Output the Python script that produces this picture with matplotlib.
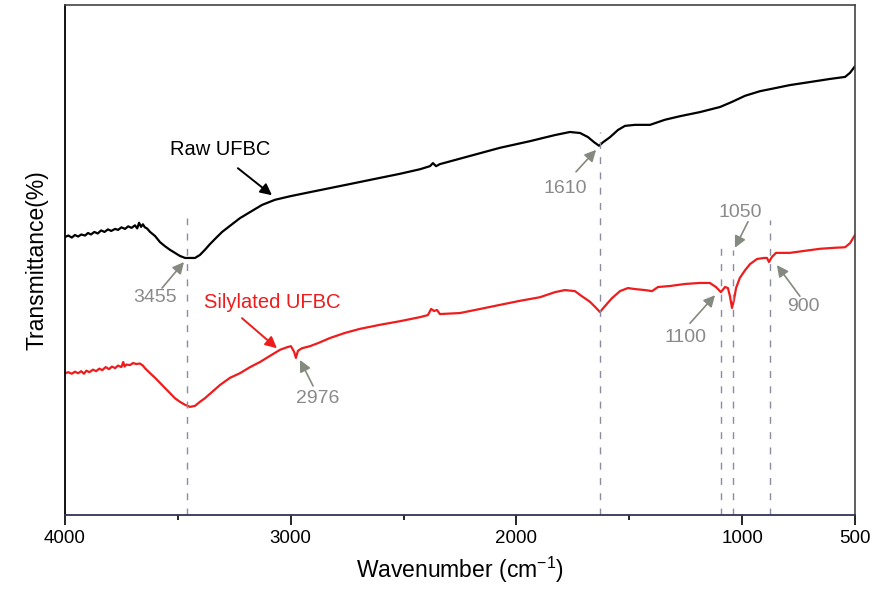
import matplotlib
matplotlib.use("Agg")
import matplotlib.pyplot as plt

plt.rcParams['font.family'] = ['Liberation Sans', 'DejaVu Sans']
plt.rcParams['mathtext.fontset'] = 'custom'
plt.rcParams['mathtext.rm'] = 'Liberation Sans'
plt.rcParams['mathtext.it'] = 'Liberation Sans:italic'

# FTIR spectra, values (transmittance in arbitrary units)
raw_wn = [4000, 3985, 3970, 3956, 3942, 3928, 3911, 3898, 3885, 3870, 3855, 3840, 3825,
          3810, 3795, 3778, 3765, 3750, 3734, 3720, 3705, 3690, 3680, 3672, 3663, 3655,
          3646, 3637, 3623, 3601, 3579, 3557, 3535, 3513, 3491,
          3468, 3446, 3424, 3402, 3380, 3358, 3336, 3304, 3269, 3225, 3180, 3127, 3070,
          3003, 2915, 2826, 2737, 2627, 2516, 2427, 2383, 2370, 2356, 2339, 2206, 2073,
          1940, 1829, 1763, 1718, 1683, 1656, 1634, 1616, 1585, 1550, 1519, 1475, 1408,
          1342, 1275, 1187, 1098, 1045, 987, 921, 854, 788, 699, 611, 544, 522, 500]
raw_t = [54.5, 54.8, 54.4, 54.9, 54.6, 55.0, 54.8, 55.3, 55.0, 55.5, 55.2, 55.8, 55.5,
         56.0, 55.7, 56.1, 55.9, 56.4, 56.1, 56.6, 56.3, 56.8, 56.2, 57.3, 56.5, 57.0,
         56.4, 56.2, 55.5, 54.7, 53.5, 52.7, 52.0, 51.4, 50.8,
         50.4, 50.4, 50.4, 51.0, 52.0, 53.1, 54.1, 55.5, 56.7, 58.2, 59.4, 60.8, 61.8,
         62.5, 63.3, 64.1, 64.9, 65.9, 66.9, 67.8, 68.4, 69.0, 68.4, 68.8, 70.4, 72.0,
         73.3, 74.5, 75.1, 74.9, 74.1, 73.1, 72.4, 73.1, 74.1, 75.5, 76.3, 76.5, 76.5,
         77.5, 78.2, 79.0, 80.0, 81.0, 82.2, 83.1, 83.7, 84.3, 84.9, 85.5, 85.9, 86.7, 88.0]

sil_wn = [4000, 3985, 3970, 3956, 3942, 3928, 3916, 3905, 3892, 3876, 3862, 3848, 3835,
          3820, 3805, 3792, 3778, 3765, 3750, 3742, 3736, 3728, 3712, 3698, 3685, 3668,
          3655, 3646, 3623, 3601, 3579, 3557, 3535, 3513,
          3491, 3468, 3446, 3424, 3402, 3380, 3349, 3313, 3269, 3225, 3180, 3136, 3092,
          3047, 3016, 2999, 2985, 2977, 2968, 2950, 2915, 2879, 2826, 2760, 2693, 2604,
          2516, 2427, 2392, 2378, 2365, 2352, 2339, 2250, 2161, 2073, 1984, 1896, 1829,
          1785, 1741, 1710, 1674, 1647, 1630, 1603, 1577, 1541, 1506, 1475, 1430, 1399,
          1373, 1320, 1253, 1187, 1143, 1116, 1094, 1076, 1063, 1054, 1045, 1036, 1027,
          1010, 987, 965, 934, 903, 890, 881, 868, 850, 788, 722, 655, 589, 544, 522, 500]
sil_t = [27.8, 28.0, 27.7, 28.1, 27.8, 28.2, 27.7, 28.3, 28.0, 28.5, 28.2, 28.7, 28.4,
         29.0, 28.6, 29.1, 28.8, 29.3, 29.0, 30.0, 29.1, 29.5, 29.4, 29.8, 29.6, 29.7,
         29.3, 28.8, 27.8, 26.9, 25.9, 24.9, 23.9, 22.9,
         22.2, 21.6, 21.2, 21.4, 22.2, 22.9, 24.1, 25.5, 26.9, 27.8, 29.0, 30.0, 31.2,
         32.4, 32.9, 33.1, 32.0, 30.8, 32.2, 32.7, 33.1, 33.7, 34.7, 35.7, 36.5, 37.3,
         38.0, 38.8, 39.2, 40.4, 40.0, 40.2, 39.4, 39.6, 40.4, 41.2, 42.0, 42.7, 43.7,
         44.1, 43.9, 42.9, 41.8, 40.6, 39.8, 41.2, 42.5, 43.9, 44.5, 44.3, 44.1, 43.9,
         44.7, 44.9, 45.3, 45.5, 45.5, 44.7, 43.7, 44.7, 44.5, 42.9, 40.6, 42.2, 44.5,
         46.5, 48.0, 49.2, 50.2, 50.4, 50.4, 49.6, 50.6, 51.4, 51.4, 51.8, 52.2, 52.4,
         52.5, 53.3, 54.9]

# peak guide lines: position and top end
guide_wn = [3460, 1630, 1095, 1042, 875]
guide_top = [58.2, 75.1, 52.4, 52.0, 57.8]

# peak labels: text, text centre, arrow tail, arrow head
peak_labels = ['3455', '1610', '1050', '1100', '900', '2976']
peak_text_xy = [(3601, 42.7), (1785, 64.1), (1010, 59.4), (1253, 34.9), (730, 40.8), (2879, 22.9)]
peak_tail_xy = [(3570, 44.5), (1736, 67.3), (974, 57.5), (1231, 37.6), (744, 42.9), (2901, 25.3)]
peak_head_xy = [(3473, 49.6), (1647, 71.6), (1032, 52.4), (1120, 43.1), (846, 49.0), (2959, 30.4)]

fig = plt.figure(figsize=(8.74, 5.91), dpi=100)
ax = fig.add_axes([65 / 874, 76 / 591, 790 / 874, 510 / 591])

ax.plot(raw_wn, raw_t, color='black', lw=1.6)
ax.plot(sil_wn, sil_t, color='#ee1c1c', lw=1.6)

for x, top in zip(guide_wn, guide_top):
    ax.plot([x, x], [0, top], color='#8c8ca0', lw=1.0, dashes=(5, 6))

grey = '#8a8a8a'
for lab, t, tail, head in zip(peak_labels, peak_text_xy, peak_tail_xy, peak_head_xy):
    ax.text(t[0], t[1], lab, color=grey, fontsize=14, ha='center', va='center')
    ax.annotate('', xy=head, xytext=tail,
                arrowprops=dict(arrowstyle='-|>', color='#858a80', lw=1.2,
                                mutation_scale=17, shrinkA=0, shrinkB=0))

ax.text(3313, 71.6, 'Raw UFBC', color='black', fontsize=14.5, ha='center', va='center')
ax.annotate('', xy=(3083, 62.7), xytext=(3234, 68.0),
            arrowprops=dict(arrowstyle='-|>', color='black', lw=1.4,
                            mutation_scale=17, shrinkA=0, shrinkB=0))
ax.text(3083, 41.6, 'Silylated UFBC', color='#ee1c1c', fontsize=14.5, ha='center', va='center')
ax.annotate('', xy=(3061, 32.7), xytext=(3216, 38.6),
            arrowprops=dict(arrowstyle='-|>', color='#ee1c1c', lw=1.4,
                            mutation_scale=17, shrinkA=0, shrinkB=0))

ax.set_xlim(4000, 500)
ax.set_ylim(0, 100)
ax.set_xticks([4000, 3000, 2000, 1000, 500])
ax.set_xticks([3500, 2500, 1500], minor=True)
ax.set_yticks([])
ax.tick_params(axis='x', which='major', direction='out', length=7.5, width=1.2,
               labelsize=13.5, pad=3)
ax.tick_params(axis='x', which='minor', direction='out', length=3.5, width=1.2)

for side in ['top', 'right']:
    ax.spines[side].set_color('#444444')
    ax.spines[side].set_linewidth(1.2)
ax.spines['left'].set_linewidth(1.3)
ax.spines['bottom'].set_color('#33335a')
ax.spines['bottom'].set_linewidth(1.3)

ax.set_xlabel('Wavenumber (cm$^{-1}$)', fontsize=16.5, labelpad=6)
ax.set_ylabel('Transmittance(%)', fontsize=16.5, labelpad=12)

fig.savefig('out.png', dpi=100)
